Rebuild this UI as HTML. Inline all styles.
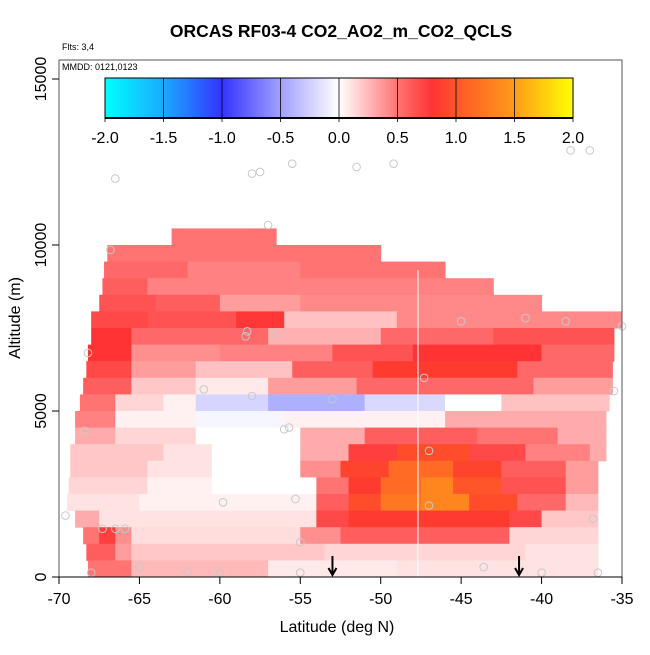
<!DOCTYPE html>
<html><head><meta charset="utf-8"><style>
body{margin:0;background:#fff;font-family:"Liberation Sans",sans-serif}
svg text{font-family:"Liberation Sans",sans-serif}
</style></head><body>
<svg id="chart" width="650" height="650" viewBox="0 0 650 650">
<text x="341" y="37" text-anchor="middle" font-size="17.5" font-weight="bold">ORCAS RF03-4 CO2_AO2_m_CO2_QCLS</text>
<text x="62" y="50" font-size="9">Flts: 3,4</text>
<g id="cells"></g>
<line x1="418" x2="418" y1="270" y2="577" stroke="#fff" stroke-width="1"/>
<g id="pts"></g>
<g id="arrows"></g>
<rect x="59" y="60" width="563" height="517" fill="none" stroke="#555" stroke-width="1"/>
<text x="62" y="70" font-size="9">MMDD: 0121,0123</text>
<g id="cbar"></g>
<g id="axes"></g>
<text x="337" y="632" text-anchor="middle" font-size="16">Latitude (deg N)</text>
<text transform="translate(20,318) rotate(-90)" text-anchor="middle" font-size="16">Altitude (m)</text>
</svg>
<script>
// altitude bands (m, lower edge) and segments [fromLat, toLat, value]
const bandAlt = [10000,9500,9000,8500,8000,7500,7000,6500,6000,5500,5000,4500,4000,3500,3000,2500,2000,1500,1000,500,0];
const bandSegs = [
 [[-63,-56.5,0.5]],
 [[-67,-63,0.5],[-63,-57,0.5],[-57,-50,0.5]],
 [[-67.2,-62,0.55],[-62,-55,0.45],[-55,-46,0.5]],
 [[-67.3,-64.5,0.6],[-64.5,-59,0.45],[-59,-43,0.45]],
 [[-67.5,-64,0.65],[-64,-60,0.6],[-60,-55,0.35],[-55,-40,0.42]],
 [[-68,-64.5,0.7],[-64.5,-59,0.65],[-59,-56,0.78],[-56,-49,0.22],[-49,-35,0.42]],
 [[-68,-65.5,0.8],[-65.5,-57,0.55],[-57,-50,0.28],[-50,-43,0.55],[-43,-35.5,0.65]],
 [[-68.2,-65.5,0.8],[-65.5,-60,0.4],[-60,-53,0.45],[-53,-48,0.65],[-48,-40,0.8],[-40,-35.5,0.55]],
 [[-68.3,-65.5,0.7],[-65.5,-61.5,0.35],[-61.5,-55.5,0.22],[-55.5,-50.5,0.6],[-50.5,-41.5,0.85],[-41.5,-35.6,0.55]],
 [[-68.5,-65.5,0.6],[-65.5,-61.5,0.2],[-61.5,-57,0.08],[-57,-51.5,0.35],[-51.5,-40.5,0.55],[-40.5,-35.6,0.35]],
 [[-68.7,-66.5,0.5],[-66.5,-63.5,0.15],[-63.5,-61.5,0.05],[-61.5,-57,-0.22],[-57,-51,-0.42],[-51,-46,-0.2],[-46,-42.5,0],[-42.5,-35.8,0.22]],
 [[-69,-66.5,0.45],[-66.5,-61.5,0.05],[-61.5,-56,-0.05],[-56,-46,0.05],[-46,-36,0.3]],
 [[-69,-66.5,0.3],[-66.5,-61.5,0.15],[-61.5,-55,0],[-55,-51,0.3],[-51,-44,0.6],[-44,-39,0.5],[-39,-36,0.3]],
 [[-69.3,-63.5,0.2],[-63.5,-60.5,0.1],[-60.5,-55,0],[-55,-52,0.3],[-52,-49,0.75],[-49,-44.5,0.95],[-44.5,-41,0.7],[-41,-37,0.45],[-37,-36,0.3]],
 [[-69.3,-64.5,0.2],[-64.5,-60.5,0.1],[-60.5,-55,0],[-55,-52.5,0.4],[-52.5,-49.5,0.9],[-49.5,-45.5,1.15],[-45.5,-42.5,0.9],[-42.5,-38.5,0.6],[-38.5,-36.5,0.35]],
 [[-69.4,-64.5,0.15],[-64.5,-60.5,0.05],[-60.5,-54,0],[-54,-52,0.5],[-52,-50,0.85],[-50,-47.5,1.15],[-47.5,-45.5,1.35],[-45.5,-42.5,1.0],[-42.5,-38.5,0.65],[-38.5,-36.5,0.35]],
 [[-69.5,-65,0.1],[-65,-54,0.05],[-54,-52,0.6],[-52,-50,0.95],[-50,-47.5,1.25],[-47.5,-44.5,1.35],[-44.5,-41.5,0.95],[-41.5,-38.5,0.55],[-38.5,-36.5,0.25]],
 [[-69,-67.5,0.3],[-67.5,-61,0.1],[-61,-54,0.1],[-54,-52,0.7],[-52,-42,0.85],[-42,-40,0.7],[-40,-36.5,0.2]],
 [[-68.5,-67.5,0.5],[-67.5,-66.5,0.75],[-66.5,-65.5,0.4],[-65.5,-55,0.12],[-55,-52.5,0.4],[-52.5,-42,0.6],[-42,-36.5,0.15]],
 [[-68.3,-66.5,0.6],[-66.5,-65.5,0.35],[-65.5,-53.5,0.2],[-53.5,-41,0.15],[-41,-36.5,0.1]],
 [[-68.2,-65.5,0.5],[-65.5,-57,0.25],[-57,-49,0.08],[-49,-36.5,0.1]]
];
const pointLat = [-69.6,-68.2,-68.4,-68,-67.3,-66.5,-65.9,-66.8,-66.5,-65,-62,-60,-55,-59.8,-55.3,-55,-56,-55.7,-58,-61,-58.3,-58.4,-56.5,-57,-58,-57.5,-55.5,-51.5,-49.2,-38.2,-37,-53,-47.3,-47,-47,-43.6,-40,-36.8,-36.5,-35.5,-35,-38.5,-41,-45];
const pointAlt = [1850,6750,4400,130,1450,1450,1450,9850,12000,300,150,130,130,2250,2350,1050,4450,4500,5450,5650,7400,7250,7350,10600,12150,12200,12450,12350,12450,12850,12850,5350,6000,3800,2150,300,130,1750,130,5600,7550,7700,7800,7700];
const arrowLat = [-53, -41.4];
const xTicks = [-70,-65,-60,-55,-50,-45,-40,-35];
const yTicks = [0,5000,10000,15000];
const cbTicks = [-2,-1.5,-1,-0.5,0,0.5,1,1.5,2];

const X = lat => 59 + (lat + 70) * 563 / 35;
const Y = alt => 577 - alt * 498 / 15000;
const stops = [[-2,[0,255,255]],[-1.5,[26,170,255]],[-1,[51,51,255]],[-0.5,[160,160,255]],[0,[255,255,255]],[0.5,[255,115,115]],[0.8,[255,51,51]],[1,[255,85,40]],[1.5,[255,155,26]],[2,[255,255,0]]];
function color(v){
  v=Math.max(-2,Math.min(2,v));
  for(let i=0;i<stops.length-1;i++){const [a,ca]=stops[i],[b,cb]=stops[i+1];
    if(v>=a&&v<=b){const t=(v-a)/(b-a);return 'rgb('+ca.map((c,k)=>Math.round(c+(cb[k]-c)*t)).join(',')+')';}}
  return '#fff';
}
const NS='http://www.w3.org/2000/svg';
function mk(tag,attrs,parent){const e=document.createElementNS(NS,tag);for(const k in attrs)e.setAttribute(k,attrs[k]);parent.appendChild(e);return e;}
const cells=document.getElementById('cells');
bandAlt.forEach((alt,i)=>{
  bandSegs[i].forEach(s=>{
    const r=mk('rect',{x:X(s[0]),y:Y(alt+500),width:X(s[1])-X(s[0])+0.5,height:Y(alt)-Y(alt+500)+0.5,fill:color(s[2])},cells);
    
    
  });
});
const pts=document.getElementById('pts');
pointLat.forEach((la,i)=>{
  const c=mk('circle',{cx:X(la),cy:Y(pointAlt[i]),r:3.8,fill:'none',stroke:'#c8c8c8','stroke-width':1},pts);
  
  
});
const ar=document.getElementById('arrows');
arrowLat.forEach(la=>{
  const g=mk('path',{d:`M${X(la)} 556 V575 M${X(la)-4} 568 L${X(la)} 575 L${X(la)+4} 568`,stroke:'#000','stroke-width':2,fill:'none'},ar);
  
  
});
const ax=document.getElementById('axes');
mk('line',{x1:59,x2:622,y1:577,y2:577,stroke:'#000'},ax);
xTicks.forEach(t=>{
  mk('line',{x1:X(t),x2:X(t),y1:577,y2:584,stroke:'#000'},ax);
  const tx=mk('text',{x:X(t),y:604,'text-anchor':'middle','font-size':16},ax);tx.textContent=t;
  
  
});
yTicks.forEach(t=>{
  mk('line',{x1:52,x2:59,y1:Y(t),y2:Y(t),stroke:'#000'},ax);
  const tx=mk('text',{transform:`translate(46,${Y(t)}) rotate(-90)`,'text-anchor':'middle','font-size':16},ax);tx.textContent=t;
  
  
});
const cb=document.getElementById('cbar');
const cx0=105,cx1=573,cy0=78,cy1=118;
for(let i=0;i<200;i++){const v=-2+4*(i+0.5)/200;
  mk('rect',{x:cx0+(cx1-cx0)*i/200,y:cy0,width:(cx1-cx0)/200+0.6,height:cy1-cy0,fill:color(v)},cb);}
mk('rect',{x:cx0,y:cy0,width:cx1-cx0,height:cy1-cy0,fill:'none',stroke:'#000'},cb);
cbTicks.forEach(t=>{const x=cx0+(t+2)/4*(cx1-cx0);
  mk('line',{x1:x,x2:x,y1:cy0,y2:cy1+4,stroke:'#000','stroke-width':0.8},cb);
  const tx=mk('text',{x:x,y:143,'text-anchor':'middle','font-size':16},cb);tx.textContent=t.toFixed(1);
  
  
});
mk('line',{x1:cx0,x2:cx1,y1:cy1,y2:cy1,stroke:'#000','stroke-width':2},cb);
</script>
</body></html>
